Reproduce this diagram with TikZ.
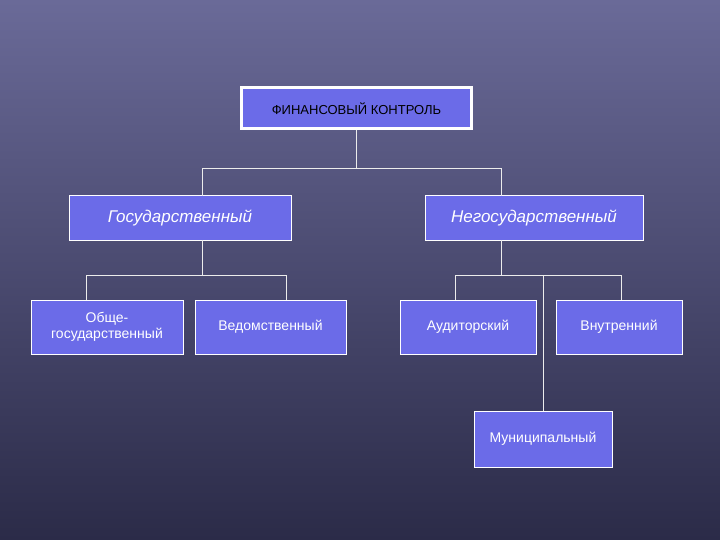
\documentclass[tikz,border=0pt]{standalone}
\usepackage{fontspec}
\setmainfont{Liberation Sans}
\begin{document}
\begin{tikzpicture}[x=1pt,y=-1pt,
  box/.style={draw=white,line width=1pt,fill=boxblue,text=white,font=\fontsize{14}{16}\selectfont,align=center,inner sep=0pt},
  conn/.style={draw=white!85!gray,line width=0.8pt}]
\definecolor{boxblue}{HTML}{6B6BE8}
\definecolor{bgtop}{HTML}{6A6A98}
\definecolor{bgbot}{HTML}{2B2B48}
\shade[top color=bgtop,bottom color=bgbot] (0,0) rectangle (720,540);
\useasboundingbox (0,0) rectangle (720,540);
\node[draw=white,line width=3pt,fill=boxblue,minimum width=230,minimum height=41,text=black,font=\fontsize{13}{15}\selectfont,inner sep=0pt] (top) at (356.5,108.5) {ФИНАНСОВЫЙ КОНТРОЛЬ};
\node[box,minimum width=222,minimum height=44,font=\fontsize{17}{19}\selectfont\itshape] (gos) at (180,218) {Государственный};
\node[box,minimum width=218,minimum height=44,font=\fontsize{17}{19}\selectfont\itshape] (neg) at (534,218) {Негосударственный};
\node[box,minimum width=152,minimum height=54] (ob) at (107,327) {Обще-\\государственный};
\node[box,minimum width=151,minimum height=54] (ved) at (270.5,327) {Ведомственный};
\node[box,minimum width=136,minimum height=54] (aud) at (468,327) {Аудиторский};
\node[box,minimum width=126,minimum height=54] (vn) at (619,327) {Внутренний};
\node[box,minimum width=138,minimum height=56] (mun) at (543,439) {Муниципальный};
\coordinate (j1) at (356.5,168);
\coordinate (j2) at (202,275);
\coordinate (j3) at (501,275);
\draw[conn] (top.south) -- (j1);
\draw[conn] (j1) -| (202,196);
\draw[conn] (j1) -| (501,196);
\draw[conn] (202,240) -- (j2);
\draw[conn] (j2) -| (86,300);
\draw[conn] (j2) -| (286,300);
\draw[conn] (501,240) -- (j3);
\draw[conn] (j3) -| (455,300);
\draw[conn] (j3) -| (621,300);
\draw[conn] (543,275) -- (mun.north);
\end{tikzpicture}
\end{document}
